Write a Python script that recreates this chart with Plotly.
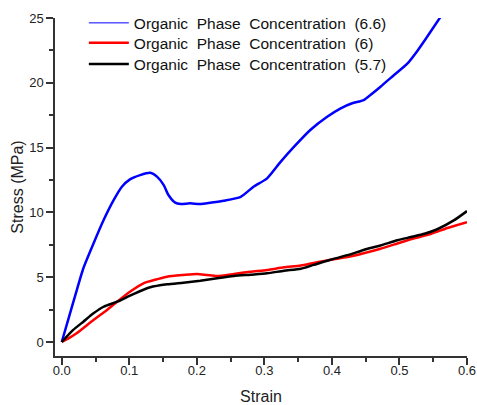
import plotly.graph_objects as go

# Stress-strain curves for three organic phase concentrations
strain_66 = [0, 0.01, 0.02, 0.032, 0.047, 0.062, 0.077, 0.089, 0.101, 0.116, 0.131,
             0.141, 0.151, 0.158, 0.168, 0.176, 0.19, 0.205, 0.22, 0.24, 0.265, 0.284,
             0.304, 0.324, 0.344, 0.368, 0.393, 0.413, 0.43, 0.447, 0.457, 0.472,
             0.492, 0.512, 0.527, 0.541, 0.561]
stress_66 = [0, 1.8, 3.6, 5.69, 7.6, 9.41, 10.96, 11.98, 12.55, 12.88, 13.06,
             12.76, 12.11, 11.34, 10.75, 10.65, 10.7, 10.65, 10.75, 10.9, 11.2, 11.98,
             12.63, 13.9, 15.07, 16.36, 17.38, 18.03, 18.42, 18.67, 19.06, 19.7,
             20.6, 21.5, 22.5, 23.55, 25.1]

strain_6 = [0, 0.01, 0.022, 0.047, 0.067, 0.082, 0.101, 0.121, 0.141, 0.156, 0.18,
            0.2, 0.215, 0.23, 0.255, 0.279, 0.304, 0.329, 0.354, 0.373, 0.398, 0.423,
            0.447, 0.472, 0.497, 0.522, 0.547, 0.571, 0.6]
stress_6 = [0, 0.28, 0.67, 1.7, 2.47, 3.11, 3.88, 4.53, 4.84, 5.04, 5.17,
            5.25, 5.17, 5.09, 5.25, 5.42, 5.56, 5.76, 5.9, 6.1, 6.35, 6.55,
            6.85, 7.2, 7.6, 8.0, 8.35, 8.8, 9.25]

strain_57 = [0, 0.017, 0.032, 0.047, 0.062, 0.082, 0.106, 0.131, 0.156, 0.18, 0.205,
             0.23, 0.255, 0.279, 0.304, 0.329, 0.354, 0.373, 0.398, 0.423, 0.447,
             0.472, 0.497, 0.517, 0.537, 0.556, 0.581, 0.6]
stress_57 = [0, 0.93, 1.57, 2.21, 2.72, 3.11, 3.7, 4.22, 4.45, 4.58, 4.73,
             4.92, 5.09, 5.19, 5.3, 5.5, 5.65, 5.95, 6.35, 6.7, 7.1,
             7.45, 7.85, 8.1, 8.35, 8.7, 9.4, 10.1]

names = ["Organic\u00a0 Phase\u00a0 Concentration\u00a0 (6.6)",
         "Organic\u00a0 Phase\u00a0 Concentration\u00a0 (6)",
         "Organic\u00a0 Phase\u00a0 Concentration\u00a0 (5.7)"]

x_ticks = [0, 0.1, 0.2, 0.3, 0.4, 0.5, 0.6]
x_minor = [0.05, 0.15, 0.25, 0.35, 0.45, 0.55]
y_ticks = [0, 5, 10, 15, 20, 25]
y_minor = [2.5, 7.5, 12.5, 17.5, 22.5]

FONT = "Liberation Sans, Arial, sans-serif"
LINE = dict(width=2.5, shape="spline", smoothing=0.6)

fig = go.Figure()

# legend key for the 6.6 curve is drawn with a thin line
fig.add_trace(go.Scatter(x=[None], y=[None], mode="lines", name=names[0],
                         legendgroup="c66", legend="legend",
                         line=dict(color="#0000ff", width=1)))
fig.add_trace(go.Scatter(x=strain_66, y=stress_66, mode="lines", name=names[0],
                         legendgroup="c66", showlegend=False,
                         line=dict(color="#0000ff", **LINE)))
fig.add_trace(go.Scatter(x=strain_6, y=stress_6, mode="lines", name=names[1],
                         legend="legend2", line=dict(color="#ff0000", **LINE)))
fig.add_trace(go.Scatter(x=strain_57, y=stress_57, mode="lines", name=names[2],
                         legend="legend3", line=dict(color="#000000", **LINE)))

axis_common = dict(
    showgrid=False, zeroline=False, showline=True, linecolor="#333333", linewidth=1.5,
    ticks="outside", ticklen=7, tickwidth=1.5, tickcolor="#333333", automargin=False,
    tickfont=dict(family=FONT, size=13, color="#222222"),
)

fig.update_xaxes(
    range=[-0.01, 0.6], tickvals=x_ticks, ticktext=[f"{v:.1f}" for v in x_ticks],
    minor=dict(tickvals=x_minor, ticks="outside", ticklen=4, tickwidth=1.5, tickcolor="#333333"),
    ticklabelstandoff=-5,
    title=dict(text="Strain", font=dict(family=FONT, size=16, color="#222222"), standoff=28),
    **axis_common,
)
fig.update_yaxes(
    range=[-1.08, 25], tickvals=y_ticks, ticktext=[str(v) for v in y_ticks],
    minor=dict(tickvals=y_minor, ticks="outside", ticklen=4, tickwidth=1.5, tickcolor="#333333"),
    title=dict(text="Stress (MPa)", font=dict(family=FONT, size=16, color="#222222"), standoff=2),
    **axis_common,
)

# three stacked single-entry legends placed in figure (container) coordinates
legend_common = dict(x=0.07, xanchor="left", yanchor="middle", yref="container",
                     bgcolor="rgba(0,0,0,0)", itemwidth=40,
                     font=dict(family=FONT, size=15.5, color="#111111"))

fig.update_layout(
    width=477, height=405,
    margin=dict(l=55, r=10, t=18, b=49, autoexpand=False),
    paper_bgcolor="white", plot_bgcolor="white",
    legend=dict(y=0.9425, **legend_common),
    legend2=dict(y=0.8931, **legend_common),
    legend3=dict(y=0.8412, **legend_common),
    font=dict(family=FONT),
)

fig.write_html("out.html")
